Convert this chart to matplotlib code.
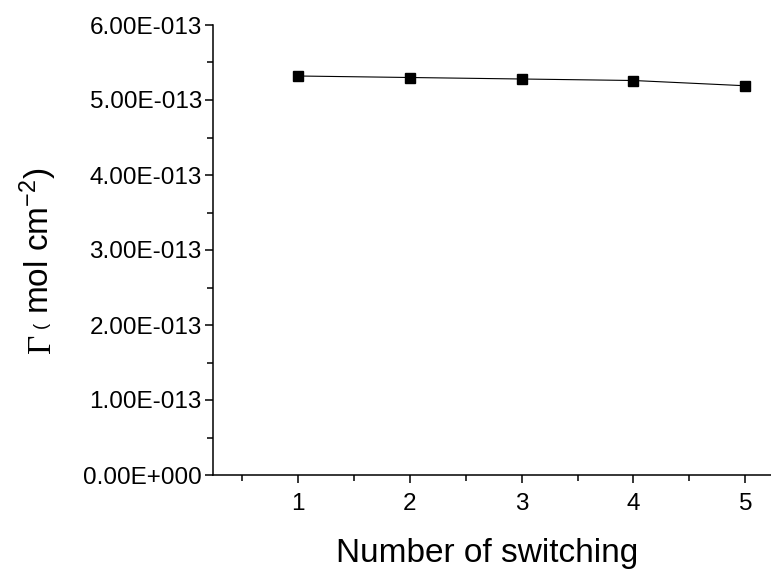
import matplotlib
matplotlib.use("Agg")
import matplotlib.pyplot as plt
from matplotlib.ticker import MultipleLocator, FuncFormatter
import numpy as np

# data
switching = [1, 2, 3, 4, 5]
gamma = [5.32e-13, 5.30e-13, 5.28e-13, 5.26e-13, 5.19e-13]

plt.rcParams['font.family'] = ['Liberation Sans', 'DejaVu Sans']
plt.rcParams['mathtext.fontset'] = 'custom'
plt.rcParams['mathtext.rm'] = 'Liberation Sans'
plt.rcParams['mathtext.default'] = 'regular'


def sci_fmt(v, pos):
    if v == 0:
        return "0.00E+000"
    e = int(np.floor(np.log10(abs(v))))
    m = v / 10**e
    sign = '-' if e < 0 else '+'
    return f"{m:.2f}E{sign}{abs(e):03d}"


fig = plt.figure(figsize=(7.71, 5.70), dpi=100)
ax = fig.add_axes([213/771, 1 - 475/570, 1 - 213/771, 450/570])

ax.plot(switching, gamma, color='k', linewidth=0.8, marker='s', markersize=7)

ax.set_xlim(0.24, 5.23)
ax.set_ylim(0, 6e-13)

ax.xaxis.set_major_locator(MultipleLocator(1))
ax.xaxis.set_minor_locator(MultipleLocator(0.5))
ax.yaxis.set_major_locator(MultipleLocator(1e-13))
ax.yaxis.set_minor_locator(MultipleLocator(0.5e-13))
ax.yaxis.set_major_formatter(FuncFormatter(sci_fmt))

for s in ['top', 'right']:
    ax.spines[s].set_visible(False)
for s in ['left', 'bottom']:
    ax.spines[s].set_linewidth(1.1)

ax.tick_params(which='major', direction='out', length=6, width=1.1, labelsize=17.5)
ax.tick_params(which='minor', direction='out', length=4, width=1.1)
ax.tick_params(axis='y', pad=2)
ax.tick_params(axis='x', pad=7)

fig.text(487/771, 1 - 562/570, "Number of switching", fontsize=24,
         ha='center', va='baseline')

# y label pieces: serif Gamma, small bracket, rest
fig.text(50/771, 1 - 353/570, "\u0393", family='Liberation Serif', fontsize=24,
         rotation=90, rotation_mode='anchor', ha='left', va='baseline')
fig.text(46/771, 1 - 328/570, "(", fontsize=13,
         rotation=90, rotation_mode='anchor', ha='left', va='baseline')
fig.text(49/771, 1 - 314/570, "mol cm$^{-2}$)", fontsize=24,
         rotation=90, rotation_mode='anchor', ha='left', va='baseline')

fig.savefig("out.png", dpi=100)
